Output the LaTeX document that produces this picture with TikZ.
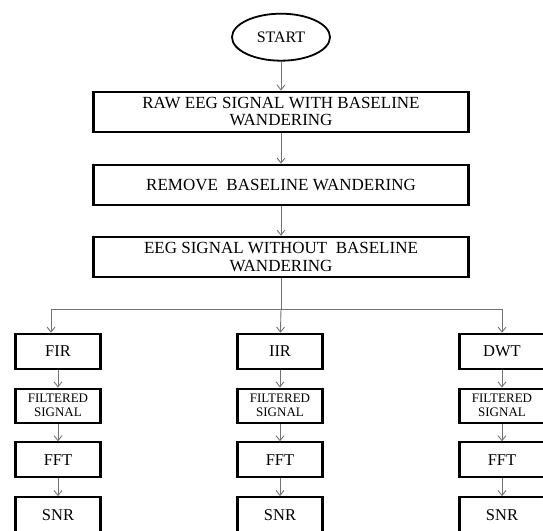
\documentclass[tikz,border=0pt]{standalone}
\usepackage{fontspec}
\setmainfont{Liberation Serif}
\usepackage{tikz}
\usetikzlibrary{shapes.geometric,arrows.meta,positioning}

\begin{document}
\begin{tikzpicture}[
    x=1pt, y=1pt,
    node distance=17.7pt,
    startnode/.style={ellipse, draw, line width=1.8pt, minimum width=98pt, minimum height=47pt, inner sep=0pt, font=\fontsize{16}{17}\selectfont},
    bigbox/.style={rectangle, draw, line width=2.1pt, minimum width=375pt, minimum height=40pt, inner sep=0pt, align=center, font=\fontsize{17}{17.7}\selectfont},
    smallbox/.style={rectangle, draw, line width=2.1pt, minimum width=85pt, minimum height=35pt, inner sep=0pt, align=center, font=\fontsize{16.5}{17}\selectfont},
    filtbox/.style={smallbox, minimum height=34pt, font=\fontsize{13}{14}\selectfont},
    arrow/.style={-{Straight Barb[length=5pt,width=8pt]}, line width=0.9pt, draw=black!55},
    line/.style={line width=0.9pt, draw=black!55}
]
\useasboundingbox (0,0) rectangle (543,530);

% Main chain
\node[startnode] (start) at (281,492.8) {START};
\node[bigbox, below=29pt of start] (raw) {RAW EEG SIGNAL WITH BASELINE\\WANDERING};
\node[bigbox, below=31pt of raw] (remove) {REMOVE\ \ BASELINE WANDERING};
\node[bigbox, below=30pt of remove] (clean) {EEG SIGNAL WITHOUT\ \ BASELINE\\WANDERING};

\draw[arrow] (start) -- (raw);
\draw[arrow] (raw) -- (remove);
\draw[arrow] (remove) -- (clean);

% Three branches
\foreach \name/\label/\xpos in {fir/FIR/58, iir/IIR/280, dwt/DWT/502} {
  \node[smallbox] (\name) at (\xpos,178.7) {\label};
  \node[filtbox, below=of \name] (\name filt) {FILTERED\\SIGNAL};
  \node[smallbox, below=of \name filt] (\name fft) {FFT};
  \node[smallbox, below=of \name fft] (\name snr) {SNR};
  \draw[arrow] (\name) -- (\name filt);
  \draw[arrow] (\name filt) -- (\name fft);
  \draw[arrow] (\name fft) -- (\name snr);
}

% Split
\coordinate (split) at (clean.south |- 0,221);
\coordinate (firin) at ([xshift=-7pt]fir.north);
\draw[line] (clean) -- (split);
\draw[arrow] (split) -| (firin);
\draw[arrow] (split) -- (iir);
\draw[arrow] (split) -| (dwt);

\end{tikzpicture}
\end{document}
